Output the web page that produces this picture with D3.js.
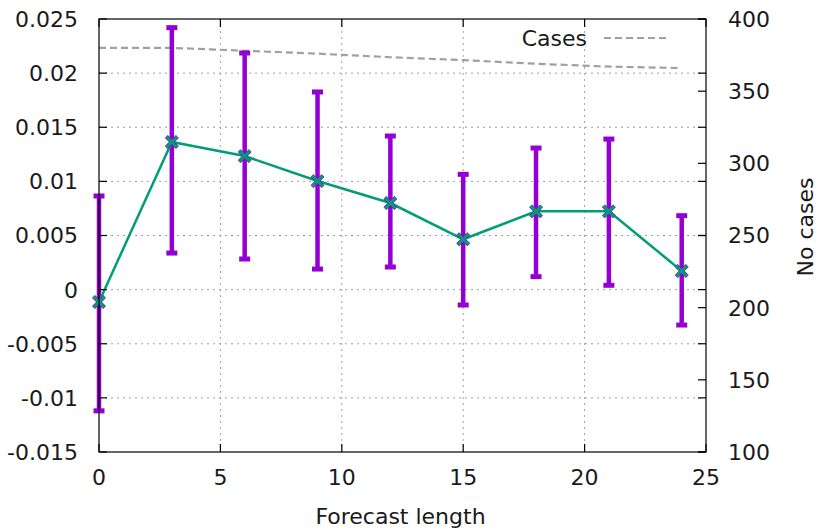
<!DOCTYPE html>
<html><head><meta charset="utf-8">
<script src="https://cdn.jsdelivr.net/npm/d3@7"></script>
<style>html,body{margin:0;padding:0;background:#fff;}</style>
</head><body>
<svg id="c" width="819" height="530"></svg>
<script>
// data
const forecastLength = [0, 3, 6, 9, 12, 15, 18, 21, 24];
const meanValue = [-0.00114, 0.01364, 0.01234, 0.01003, 0.0080, 0.00465, 0.00723, 0.00723, 0.00172];
const errLow = [-0.0112, 0.00338, 0.00283, 0.0019, 0.00209, -0.00142, 0.0012, 0.0004, -0.00327];
const errHigh = [0.00865, 0.0242, 0.02186, 0.01826, 0.01419, 0.01065, 0.01308, 0.01391, 0.00683];
const cases = [380, 380, 378, 376, 373.5, 371.5, 369, 367, 366];
const xTicks = [0, 5, 10, 15, 20, 25];
const yTicks = [-0.015, -0.01, -0.005, 0, 0.005, 0.01, 0.015, 0.02, 0.025];
const y2Ticks = [100, 150, 200, 250, 300, 350, 400];

const svg = d3.select("#c");
const L = 99, R = 706, T = 19, B = 452;
const font = "'DejaVu Sans', sans-serif";
const fs = 22;
const txt = "#1a1a1a";

const x = d3.scaleLinear().domain([0, 25]).range([L, R]);
const y = d3.scaleLinear().domain([-0.015, 0.025]).range([B, T]);
const y2 = d3.scaleLinear().domain([100, 400]).range([B, T]);

const gridCol = "#a0a0a0";
// grid
const g = svg.append("g");
g.selectAll("line.gx").data(xTicks.filter(d => d > 0 && d < 25)).join("line")
  .attr("x1", d => x(d)).attr("x2", d => x(d)).attr("y1", T).attr("y2", B)
  .attr("stroke", gridCol).attr("stroke-width", 1).attr("stroke-dasharray", "2,4");
g.selectAll("line.gy").data(yTicks.filter(d => d > -0.015 && d < 0.025)).join("line")
  .attr("x1", L).attr("x2", R).attr("y1", d => y(d)).attr("y2", d => y(d))
  .attr("stroke", gridCol).attr("stroke-width", 1).attr("stroke-dasharray", "2,4");

// cases line
const casesData = forecastLength.map((f, i) => [f, cases[i]]);
svg.append("path").datum(casesData)
  .attr("d", d3.line().x(d => x(d[0])).y(d => y2(d[1])))
  .attr("fill", "none").attr("stroke", "#a0a0a0").attr("stroke-width", 2.2)
  .attr("stroke-dasharray", "7,4");

// error bars
const purple = "#9400d3", green = "#009e73";
const ed = forecastLength.map((f, i) => ({f, m: meanValue[i], lo: errLow[i], hi: errHigh[i]}));
const eb = svg.append("g");
eb.selectAll("line.v").data(ed).join("line")
  .attr("x1", d => x(d.f)).attr("x2", d => x(d.f)).attr("y1", d => y(d.lo)).attr("y2", d => y(d.hi))
  .attr("stroke", purple).attr("stroke-width", 4.5);
["lo", "hi"].forEach(k => {
  eb.selectAll("line.c" + k).data(ed).join("line")
    .attr("x1", d => x(d.f) - 5.5).attr("x2", d => x(d.f) + 5.5)
    .attr("y1", d => y(d[k])).attr("y2", d => y(d[k]))
    .attr("stroke", purple).attr("stroke-width", 5);
});

// green line
svg.append("path").datum(ed)
  .attr("d", d3.line().x(d => x(d.f)).y(d => y(d.m)))
  .attr("fill", "none").attr("stroke", green).attr("stroke-width", 2.5);

// markers
const ms = 5.5;
function cross(sel, col, w, s) {
  sel.selectAll(null).data(ed).join("path")
    .attr("d", d => { const cx = x(d.f), cy = y(d.m);
      return `M${cx - s},${cy - s}L${cx + s},${cy + s}M${cx - s},${cy + s}L${cx + s},${cy - s}`; })
    .attr("stroke", col).attr("stroke-width", w).attr("fill", "none");
}
cross(svg.append("g"), purple, 4, ms);
cross(svg.append("g"), green, 3, ms);

// border
svg.append("rect").attr("x", L).attr("y", T).attr("width", R - L).attr("height", B - T)
  .attr("fill", "none").attr("stroke", "#000").attr("stroke-width", 1.2);

// ticks
const tl = 8;
const tk = svg.append("g").attr("stroke", "#000").attr("stroke-width", 1.2);
xTicks.forEach(d => {
  tk.append("line").attr("x1", x(d)).attr("x2", x(d)).attr("y1", B).attr("y2", B - tl);
  tk.append("line").attr("x1", x(d)).attr("x2", x(d)).attr("y1", T).attr("y2", T + tl);
});
yTicks.forEach(d => {
  tk.append("line").attr("x1", L).attr("x2", L + tl).attr("y1", y(d)).attr("y2", y(d));
  tk.append("line").attr("x1", R).attr("x2", R - tl).attr("y1", y(d)).attr("y2", y(d));
});
y2Ticks.forEach(d => {
  tk.append("line").attr("x1", R).attr("x2", R - tl).attr("y1", y2(d)).attr("y2", y2(d));
});

// tick labels
const fmtY = d => d === 0 ? "0" : String(+d.toFixed(3));
svg.append("g").selectAll("text").data(yTicks).join("text")
  .attr("x", 78).attr("y", d => y(d)).attr("dy", "0.36em").attr("text-anchor", "end")
  .attr("font-family", font).attr("font-size", fs).attr("fill", txt).text(fmtY);
svg.append("g").selectAll("text").data(y2Ticks).join("text")
  .attr("x", 728).attr("y", d => y2(d)).attr("dy", "0.36em").attr("text-anchor", "start")
  .attr("font-family", font).attr("font-size", fs).attr("fill", txt).text(d => d);
svg.append("g").selectAll("text").data(xTicks).join("text")
  .attr("x", d => x(d)).attr("y", 477).attr("dy", "0.36em").attr("text-anchor", "middle")
  .attr("font-family", font).attr("font-size", fs).attr("fill", txt).text(d => d);

// axis titles
svg.append("text").attr("x", (L + R) / 2 - 2).attr("y", 516).attr("dy", "0.36em")
  .attr("text-anchor", "middle").attr("font-family", font).attr("font-size", fs).attr("fill", txt)
  .text("Forecast length");
svg.append("text").attr("transform", "translate(813,227) rotate(-90)")
  .attr("text-anchor", "middle").attr("font-family", font).attr("font-size", fs).attr("fill", txt)
  .text("No cases");

// legend
svg.append("text").attr("x", 587).attr("y", 38).attr("dy", "0.36em").attr("text-anchor", "end")
  .attr("font-family", font).attr("font-size", fs).attr("fill", txt).text("Cases");
svg.append("line").attr("x1", 604).attr("x2", 668).attr("y1", 38).attr("y2", 38)
  .attr("stroke", "#a0a0a0").attr("stroke-width", 2.2).attr("stroke-dasharray", "7,4");
</script>
</body></html>
